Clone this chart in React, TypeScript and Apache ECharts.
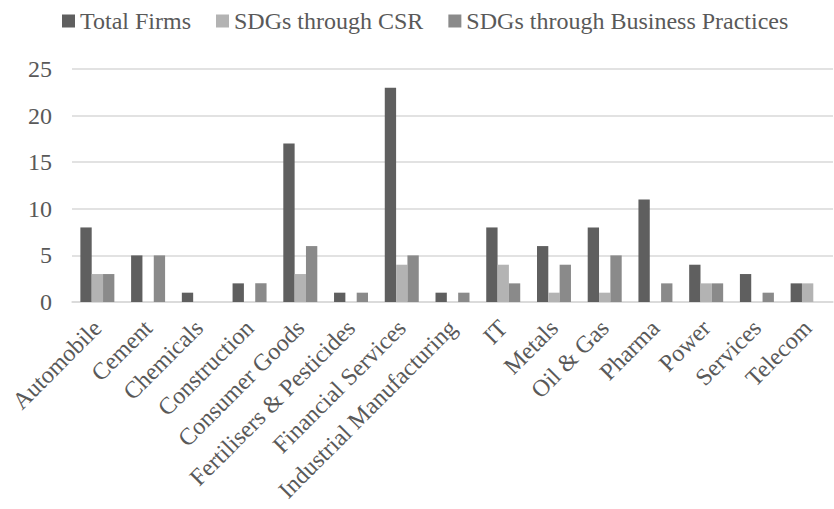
import React, { useEffect, useRef } from "react";
import * as echarts from "echarts";

const categories = [
  "Automobile",
  "Cement",
  "Chemicals",
  "Construction",
  "Consumer Goods",
  "Fertilisers & Pesticides",
  "Financial Services",
  "Industrial Manufacturing",
  "IT",
  "Metals",
  "Oil & Gas",
  "Pharma",
  "Power",
  "Services",
  "Telecom",
];
const totalFirms = [8, 5, 1, 2, 17, 1, 23, 1, 8, 6, 8, 11, 4, 3, 2];
const sdgsCSR = [3, 0, 0, 0, 3, 0, 4, 0, 4, 1, 1, 0, 2, 0, 2];
const sdgsBusiness = [3, 5, 0, 2, 6, 1, 5, 1, 2, 4, 5, 2, 2, 1, 0];

const FONT = "'Liberation Serif', 'Times New Roman', serif";

export default function App() {
  const ref = useRef<HTMLDivElement>(null);
  useEffect(() => {
    if (!ref.current) return;
    const chart = echarts.init(ref.current, undefined, { renderer: "svg" });
    const mk = (name: string, data: number[], color: string) => ({
      name,
      type: "bar",
      data,
      barGap: "0%",
      barCategoryGap: "33%",
      itemStyle: { color },
    });
    chart.setOption({
      animation: false,
      backgroundColor: "#ffffff",
      textStyle: { fontFamily: FONT },
      legend: {
        top: 4,
        left: 57,
        itemWidth: 13,
        itemHeight: 13,
        itemGap: 25,
        icon: "rect",
        textStyle: { fontFamily: FONT, fontSize: 24, color: "#595959" },
        data: ["Total Firms", "SDGs through CSR", "SDGs through Business Practices"],
      },
      grid: { left: 72, right: 1, top: 69, bottom: 207, containLabel: false },
      xAxis: {
        type: "category",
        data: categories,
        axisLine: { lineStyle: { color: "#d9d9d9", width: 1.5 } },
        axisTick: { show: false },
        axisLabel: {
          interval: 0,
          rotate: 45,
          margin: 22,
          fontFamily: FONT,
          fontSize: 24,
          color: "#595959",
        },
      },
      yAxis: {
        type: "value",
        min: 0,
        max: 25,
        interval: 5,
        axisLine: { show: false },
        axisTick: { show: false },
        splitLine: { lineStyle: { color: "#d9d9d9", width: 1.5 } },
        axisLabel: {
          margin: 20,
          fontFamily: FONT,
          fontSize: 24,
          color: "#595959",
        },
      },
      series: [
        mk("Total Firms", totalFirms, "#5f5f5f"),
        mk("SDGs through CSR", sdgsCSR, "#b3b3b3"),
        mk("SDGs through Business Practices", sdgsBusiness, "#8a8a8a"),
      ],
    });
    return () => chart.dispose();
  }, []);
  return <div ref={ref} style={{ width: 834, height: 509, position: "absolute", left: 0, top: 0 }} />;
}
